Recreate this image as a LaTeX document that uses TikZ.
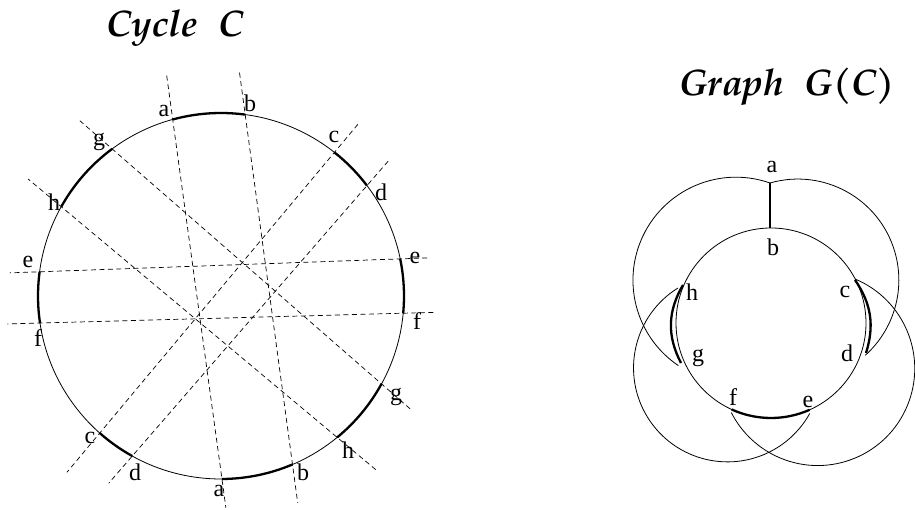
\documentclass[tikz,border=0pt]{standalone}
\usepackage{fontspec}
\setmainfont{Liberation Serif}
\newfontfamily\titlefont{TeX Gyre Pagella}
\usetikzlibrary{calc}
\begin{document}
\begin{tikzpicture}[x=1pt,y=1pt,
  thin line/.style={line width=0.8pt},
  thickarc/.style={line width=2.3pt},
  dashline/.style={line width=0.7pt,dash pattern=on 5pt off 3.5pt},
  lbl/.style={inner sep=0pt,font=\fontsize{24}{28}\selectfont},
  ttl/.style={inner sep=0pt,font=\titlefont\bfseries\itshape\fontsize{37}{44}\selectfont}]
\useasboundingbox (0,0) rectangle (915,510);
% ---------- titles ----------
\node[ttl,anchor=base] (t1) at (175,473) {Cycle\hspace{0.55em}C};
\node[ttl,anchor=base] (t2) at (787,414) {Graph\hspace{0.55em}G(C)};
% ---------- left circle ----------
\coordinate (L) at (221,214);
\def\R{183}
\foreach \n/\ang in {a1/105.3,b1/82.4,c1/51.7,d1/37.1,e1/11.7,f1/-5.4,g1/-28.7,h1/-50.6,
                     a2/-89.7,b2/-67,c2/-131.5,d2/-119,e2/172.4,f2/188.5,g2/126.5,h2/150.8}
  {\path (L) ++(\ang:\R) coordinate (\n);}
\draw[thin line] (L) circle (\R);
% thick arcs
\foreach \s/\e in {82.4/105.3,37.1/51.7,-5.4/11.7,-50.6/-28.7,-89.7/-67,-131.5/-119,172.4/188.5,126.5/150.8}
  {\draw[thickarc] (L) ++(\s:\R) arc[start angle=\s,end angle=\e,radius=\R];}
% dashed chords
\draw[dashline] ($(a1)!-0.122!(a2)$) -- ($(a2)!-0.08!(a1)$);
\draw[dashline] ($(b1)!-0.12!(b2)$) -- ($(b2)!-0.11!(b1)$);
\draw[dashline] ($(c1)!-0.10!(c2)$) -- ($(c2)!-0.14!(c1)$);
\draw[dashline] ($(d1)!-0.09!(d2)$) -- ($(d2)!-0.10!(d1)$);
\draw[dashline] ($(e1)!-0.075!(e2)$) -- ($(e2)!-0.083!(e1)$);
\draw[dashline] ($(f1)!-0.083!(f2)$) -- ($(f2)!-0.09!(f1)$);
\draw[dashline] ($(g1)!-0.106!(g2)$) -- ($(g2)!-0.12!(g1)$);
\draw[dashline] ($(h1)!-0.14!(h2)$) -- ($(h2)!-0.12!(h1)$);
% labels
\node[lbl] (la1) at (164,399) {a};
\node[lbl] (lb1) at (250,407) {b};
\node[lbl] (lg2) at (99,368) {g};
\node[lbl] (lh2) at (54,308) {h};
\node[lbl] (le2) at (28,248) {e};
\node[lbl] (lf2) at (38,172) {f};
\node[lbl] (lc2) at (90,72) {c};
\node[lbl] (ld2) at (135,38) {d};
\node[lbl] (la2) at (219,19) {a};
\node[lbl] (lb2) at (303,38) {b};
\node[lbl] (lh1) at (348,60) {h};
\node[lbl] (lg1) at (396,113) {g};
\node[lbl] (lf1) at (417,189) {f};
\node[lbl] (le1) at (415,252) {e};
\node[lbl] (ld1) at (381,318) {d};
\node[lbl] (lc1) at (334,373) {c};
% ---------- right graph ----------
\coordinate (I) at (771,187);
\draw[thin line] (I) circle (95);
\coordinate (ga) at (770,327);
\coordinate (gb) at (770,282);
\coordinate (gc) at (855,231);
\coordinate (gd) at (866,155);
\coordinate (ge) at (810,97);
\coordinate (gf) at (730,97);
\coordinate (gg) at (677,144);
\coordinate (gh) at (678,222);
\coordinate (gcx) at (855,230);
\coordinate (gdx) at (866,157);
\coordinate (ghx) at (683,225);
\coordinate (ggx) at (681,147);
% outer arcs
\draw[thin line] (ga) arc[start angle=70.7,end angle=236,radius=103];
\draw[thin line] (ga) arc[start angle=106,end angle=-48.2,radius=101];
\draw[thin line] (gh) arc[start angle=121.8,end angle=331,radius=94];
\draw[thin line] (gc) arc[start angle=67.4,end angle=-153,radius=97];
% thick edges
\draw[thickarc] (ga) -- (gb);
\draw[thickarc] (gcx) to[bend left=26] (gdx);
\draw[thickarc] (ghx) to[bend right=29] (ggx);
\draw[thickarc] (I) ++(245.5:95) arc[start angle=245.5,end angle=294,radius=95];
% labels
\node[lbl] (ra) at (772,343) {a};
\node[lbl] (rb) at (773,263) {b};
\node[lbl] (rh) at (692,218) {h};
\node[lbl] (rc) at (845,218) {c};
\node[lbl] (rg) at (698,152) {g};
\node[lbl] (rd) at (847,157) {d};
\node[lbl] (rf) at (733,113) {f};
\node[lbl] (re) at (808,108) {e};
\end{tikzpicture}
\end{document}
